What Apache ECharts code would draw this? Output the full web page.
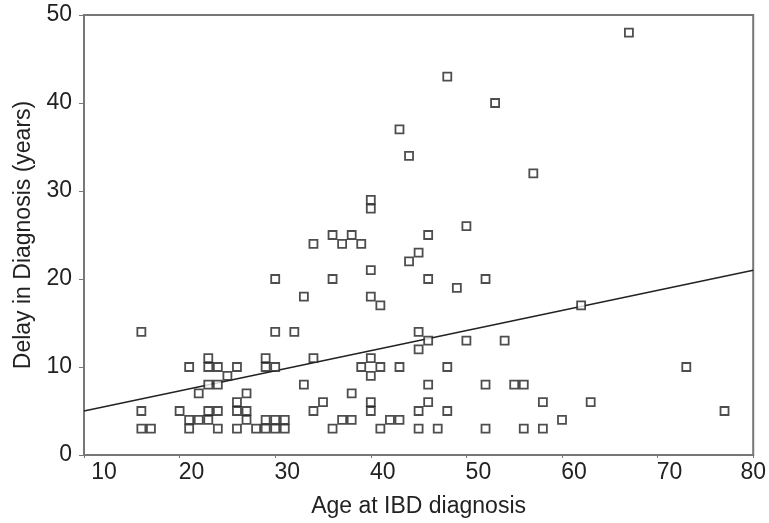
<!DOCTYPE html>
<html>
<head>
<meta charset="utf-8">
<script src="https://cdn.jsdelivr.net/npm/echarts@6/dist/echarts.min.js"></script>
<style>
  html, body { margin: 0; padding: 0; background: #fff; }
  #chart { width: 769px; height: 523px; }
</style>
</head>
<body>
<div id="chart"></div>
<script>
// age at IBD diagnosis (x) and delay in years (y)
const ages = [
  16, 16, 16, 17,
  20, 21, 21, 21, 22, 22, 23, 23, 23, 24, 23, 24, 23, 24, 24, 25,
  26, 26, 26, 27, 27, 27, 26, 28, 29, 29, 30, 29, 30, 29, 30, 30, 30,
  31, 31, 32, 33, 33, 34, 34, 35, 36, 37, 38, 38, 39, 40, 40, 40, 40,
  41, 41, 41, 40, 42, 43, 43, 45, 45, 45, 45, 46, 46, 46, 47, 48, 48,
  50, 52, 52, 54, 55, 56, 56, 58, 58, 60, 62, 63, 73, 77,
  36, 46, 49, 52, 43, 44, 40, 40, 50, 34, 36, 37, 38, 39, 46, 45, 44, 40,
  67, 48, 53, 57
]
const delays = [
  14, 5, 3, 3,
  5, 10, 4, 3, 4, 7, 4, 11, 10, 10, 8, 8, 5, 5, 3, 9,
  10, 6, 5, 5, 7, 4, 3, 3, 11, 10, 10, 4, 4, 3, 3, 14, 20,
  4, 3, 14, 18, 8, 11, 5, 6, 3, 4, 4, 7, 10, 11, 9, 6, 5,
  10, 3, 17, 18, 4, 4, 10, 14, 12, 5, 3, 13, 8, 6, 3, 10, 5,
  13, 8, 3, 13, 8, 8, 3, 6, 3, 4, 17, 6, 10, 5,
  20, 20, 19, 20, 37, 34, 29, 28, 26, 24, 25, 24, 25, 24, 25, 23, 22, 21,
  48, 43, 40, 32
]
// fitted regression line end points
const fitX = [10, 80]
const fitY = [5.0, 21.0]

const xTicks = [10, 20, 30, 40, 50, 60, 70, 80]
const yTicks = [0, 10, 20, 30, 40, 50]

const chart = echarts.init(document.getElementById('chart'))
const font = 'Liberation Sans, Arial, sans-serif'
const axisColor = '#777'
const textColor = '#222'
const fs = 23

const option = {
  animation: false,
  backgroundColor: '#fff',
  grid: {
    left: 84,
    right: 14,
    top: 15,
    bottom: 67,
    show: true,
    borderColor: axisColor,
    borderWidth: 2,
  },
  xAxis: {
    type: 'value',
    min: xTicks[0],
    max: xTicks[xTicks.length - 1],
    interval: 10,
    name: 'Age at IBD diagnosis',
    nameLocation: 'middle',
    nameGap: 40,
    nameTextStyle: { fontFamily: font, fontSize: fs, color: textColor },
    axisLine: { show: true, lineStyle: { color: axisColor, width: 2 } },
    axisTick: { show: true, length: 3, lineStyle: { color: axisColor } },
    splitLine: { show: false },
    axisLabel: {
      margin: 6,
      fontFamily: font,
      fontSize: fs,
      color: textColor,
      formatter: (v) => {
        if (v === 10) return '{f|10}'
        if (v === 80) return '{e|80}'
        return '{n|' + v + '}'
      },
      rich: {
        f: { fontFamily: font, fontSize: fs, color: textColor, padding: [0, 0, 0, 40] },
        n: { fontFamily: font, fontSize: fs, color: textColor, padding: [0, 0, 0, 24] },
        e: { fontFamily: font, fontSize: fs, color: textColor },
      },
    },
  },
  yAxis: {
    type: 'value',
    min: yTicks[0],
    max: yTicks[yTicks.length - 1],
    interval: 10,
    name: 'Delay in Diagnosis (years)',
    nameLocation: 'middle',
    nameGap: 47,
    nameTextStyle: { fontFamily: font, fontSize: fs, color: textColor },
    axisLine: { show: true, lineStyle: { color: axisColor, width: 2 } },
    axisTick: { show: true, length: 5, lineStyle: { color: axisColor } },
    splitLine: { show: false },
    axisLabel: {
      margin: 12,
      fontFamily: font,
      fontSize: fs,
      color: textColor,
    },
  },
  series: [
    {
      type: 'line',
      data: fitX.map((x, i) => [x, fitY[i]]),
      symbol: 'none',
      lineStyle: { color: '#222', width: 1.5 },
      z: 3,
    },
    {
      type: 'scatter',
      data: ages.map((a, i) => [a, delays[i]]),
      symbol: 'rect',
      symbolSize: 8,
      itemStyle: {
        color: '#fff',
        borderColor: '#222',
        borderWidth: 1.8,
      },
      z: 4,
    },
  ],
}

chart.setOption(option)
</script>
</body>
</html>
